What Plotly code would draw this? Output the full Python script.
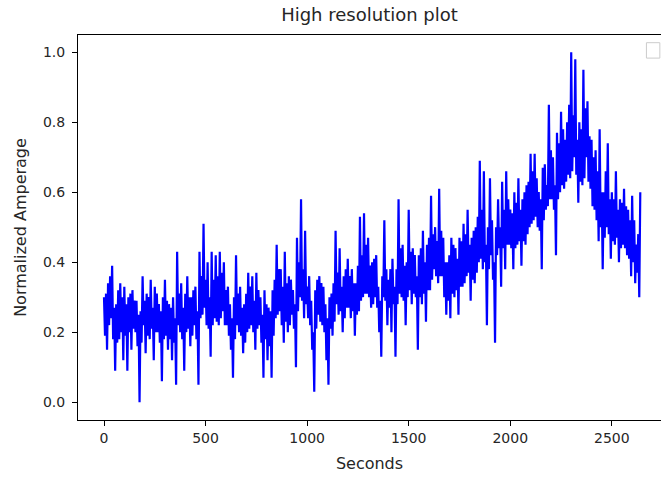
import plotly.graph_objects as go

# Normalized amperage, one value every 5 seconds
# (upper and lower edges of the dense trace alternate, spikes as read)
amperage = [
    0.30, 0.19, 0.31, 0.15, 0.34, 0.22, 0.36, 0.24, 0.39, 0.18, 0.27, 0.09, 0.28, 0.17, 0.32, 0.18, 0.34, 0.20, 0.30, 0.12,
    0.33, 0.19, 0.28, 0.09, 0.30, 0.20, 0.31, 0.15, 0.32, 0.21, 0.29, 0.20, 0.29, 0.16, 0.25, 0.00, 0.26, 0.17, 0.36, 0.22,
    0.29, 0.14, 0.31, 0.19, 0.30, 0.18, 0.35, 0.21, 0.27, 0.12, 0.33, 0.20, 0.31, 0.20, 0.28, 0.17, 0.26, 0.06, 0.30, 0.18,
    0.35, 0.19, 0.29, 0.15, 0.28, 0.18, 0.27, 0.12, 0.30, 0.17, 0.24, 0.05, 0.43, 0.22, 0.31, 0.20, 0.34, 0.18, 0.27, 0.09,
    0.31, 0.20, 0.36, 0.21, 0.30, 0.16, 0.30, 0.19, 0.32, 0.22, 0.33, 0.18, 0.26, 0.05, 0.43, 0.24, 0.36, 0.25, 0.51, 0.27,
    0.35, 0.22, 0.40, 0.21, 0.30, 0.13, 0.43, 0.22, 0.35, 0.24, 0.42, 0.23, 0.36, 0.22, 0.43, 0.24, 0.37, 0.26, 0.40, 0.22,
    0.32, 0.22, 0.33, 0.19, 0.28, 0.15, 0.24, 0.07, 0.30, 0.18, 0.42, 0.22, 0.31, 0.20, 0.33, 0.19, 0.27, 0.14, 0.28, 0.17,
    0.31, 0.20, 0.37, 0.21, 0.33, 0.22, 0.36, 0.20, 0.29, 0.15, 0.37, 0.21, 0.32, 0.22, 0.30, 0.17, 0.25, 0.07, 0.32, 0.18,
    0.28, 0.12, 0.27, 0.16, 0.26, 0.07, 0.32, 0.19, 0.35, 0.24, 0.45, 0.25, 0.38, 0.26, 0.38, 0.22, 0.33, 0.17, 0.43, 0.23,
    0.34, 0.20, 0.36, 0.22, 0.35, 0.25, 0.32, 0.21, 0.28, 0.10, 0.47, 0.26, 0.40, 0.30, 0.58, 0.29, 0.38, 0.24, 0.49, 0.28,
    0.33, 0.24, 0.36, 0.22, 0.29, 0.15, 0.20, 0.03, 0.32, 0.21, 0.35, 0.25, 0.36, 0.23, 0.34, 0.22, 0.33, 0.20, 0.28, 0.12,
    0.24, 0.05, 0.30, 0.21, 0.31, 0.19, 0.34, 0.23, 0.49, 0.28, 0.37, 0.25, 0.44, 0.26, 0.33, 0.20, 0.36, 0.24, 0.38, 0.27,
    0.41, 0.27, 0.36, 0.24, 0.38, 0.26, 0.34, 0.19, 0.34, 0.25, 0.39, 0.26, 0.53, 0.29, 0.42, 0.30, 0.54, 0.31, 0.45, 0.31,
    0.47, 0.30, 0.39, 0.27, 0.40, 0.28, 0.41, 0.30, 0.42, 0.27, 0.33, 0.20, 0.29, 0.13, 0.36, 0.30, 0.52, 0.29, 0.38, 0.22,
    0.35, 0.27, 0.38, 0.20, 0.41, 0.28, 0.33, 0.13, 0.38, 0.28, 0.58, 0.31, 0.44, 0.30, 0.45, 0.29, 0.39, 0.22, 0.40, 0.30,
    0.55, 0.32, 0.43, 0.28, 0.44, 0.31, 0.42, 0.30, 0.36, 0.15, 0.42, 0.30, 0.44, 0.28, 0.49, 0.31, 0.40, 0.23, 0.45, 0.32,
    0.47, 0.32, 0.59, 0.35, 0.48, 0.38, 0.50, 0.36, 0.46, 0.34, 0.61, 0.36, 0.49, 0.36, 0.47, 0.30, 0.40, 0.25, 0.40, 0.29,
    0.42, 0.24, 0.47, 0.31, 0.45, 0.30, 0.44, 0.32, 0.41, 0.25, 0.47, 0.33, 0.46, 0.33, 0.51, 0.34, 0.48, 0.36, 0.55, 0.37,
    0.45, 0.29, 0.47, 0.35, 0.49, 0.34, 0.50, 0.37, 0.53, 0.40, 0.69, 0.41, 0.55, 0.38, 0.66, 0.40, 0.45, 0.22, 0.50, 0.38,
    0.64, 0.42, 0.52, 0.35, 0.40, 0.17, 0.50, 0.42, 0.58, 0.44, 0.50, 0.33, 0.63, 0.44, 0.55, 0.38, 0.66, 0.45, 0.58, 0.45,
    0.55, 0.44, 0.54, 0.38, 0.60, 0.44, 0.57, 0.45, 0.64, 0.46, 0.55, 0.39, 0.58, 0.46, 0.60, 0.45, 0.62, 0.48, 0.63, 0.50,
    0.71, 0.51, 0.66, 0.52, 0.71, 0.53, 0.64, 0.50, 0.60, 0.49, 0.58, 0.38, 0.67, 0.52, 0.68, 0.55, 0.62, 0.56, 0.85, 0.58,
    0.72, 0.58, 0.70, 0.55, 0.62, 0.42, 0.77, 0.58, 0.74, 0.60, 0.83, 0.62, 0.78, 0.61, 0.75, 0.63, 0.80, 0.65, 0.85, 0.64,
    1.00, 0.66, 0.82, 0.70, 0.98, 0.65, 0.75, 0.57, 0.80, 0.63, 0.78, 0.62, 0.95, 0.64, 0.84, 0.70, 0.86, 0.63, 0.76, 0.61,
    0.75, 0.56, 0.70, 0.55, 0.72, 0.52, 0.66, 0.46, 0.78, 0.50, 0.60, 0.38, 0.60, 0.47, 0.66, 0.50, 0.74, 0.48, 0.58, 0.41,
    0.60, 0.46, 0.58, 0.45, 0.66, 0.47, 0.55, 0.40, 0.58, 0.44, 0.57, 0.45, 0.61, 0.44, 0.56, 0.42, 0.55, 0.41, 0.52, 0.36,
    0.59, 0.40, 0.52, 0.34, 0.45, 0.37, 0.48, 0.30, 0.60,
]
seconds = [5 * i for i in range(len(amperage))]

x_ticks = [0, 500, 1000, 1500, 2000, 2500]
y_ticks = [0.0, 0.2, 0.4, 0.6, 0.8, 1.0]
y_tick_labels = ["0.0", "0.2", "0.4", "0.6", "0.8", "1.0"]

FONT = "DejaVu Sans"
TXT = "#262626"

fig = go.Figure()
fig.add_trace(go.Scatter(
    x=seconds, y=amperage, mode="lines",
    line=dict(color="#0000ff", width=2.2, simplify=False),
    showlegend=False, hoverinfo="skip",
))

fig.update_layout(
    width=661, height=477,
    margin=dict(l=78, r=0, t=35, b=57),
    paper_bgcolor="white", plot_bgcolor="white",
    font=dict(family=FONT, size=15, color=TXT),
    title=dict(text="High resolution plot", x=0.5, xanchor="center",
               xref="paper", y=1 - 15 / 477, yanchor="middle",
               font=dict(family=FONT, size=18, color=TXT)),
    showlegend=False,
)
fig.update_xaxes(
    range=[-128, 2742], tickvals=x_ticks, ticktext=[str(v) for v in x_ticks],
    showgrid=False, zeroline=False,
    showline=True, linecolor="black", linewidth=1, mirror=True,
    ticks="outside", ticklen=5, tickcolor="black",
    tickfont=dict(size=14),
    title=dict(text="Seconds", standoff=13, font=dict(size=16)),
)
fig.update_yaxes(
    range=[-0.051, 1.049], tickvals=y_ticks, ticktext=y_tick_labels,
    showgrid=False, zeroline=False,
    showline=True, linecolor="black", linewidth=1,
    ticks="outside", ticklen=5, tickcolor="black",
    tickfont=dict(size=14), ticklabelstandoff=4,
    title=dict(text="Normalized Amperage", standoff=12, font=dict(size=16)),
)
# empty legend box in the upper right corner
fig.add_shape(type="rect", xref="paper", yref="paper",
              x0=0.975, x1=0.998, y0=0.94, y1=0.98,
              line=dict(color="#cccccc", width=1), fillcolor="white")

fig.write_html("out.html")
